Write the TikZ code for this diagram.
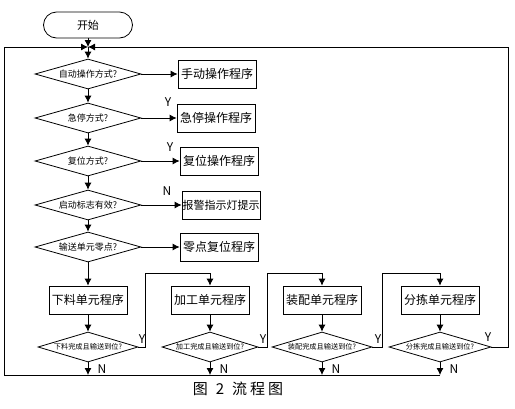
\documentclass[tikz,border=0pt]{standalone}
\usepackage{fontspec}
\newfontfamily\cjk{Noto Sans CJK SC}
\usetikzlibrary{shapes.geometric,arrows.meta,positioning}

\begin{document}
\begin{tikzpicture}[x=1pt,y=-1pt,line width=0.8pt,>={Latex[length=7pt,width=7pt]},
	startbox/.style={draw,rounded corners=13pt,minimum width=89pt,minimum height=26pt,font=\cjk\fontsize{11}{13}\selectfont},
	procbox/.style={draw,rectangle,minimum width=78pt,minimum height=28pt,inner sep=1pt,font=\cjk\fontsize{12}{14}\selectfont},
	ask/.style={draw,diamond,aspect=3.5,inner sep=0pt,minimum width=106pt,minimum height=30pt,font=\cjk\fontsize{9}{10}\selectfont},
	asksmall/.style={ask,minimum width=100pt,font=\cjk\fontsize{7.2}{8}\selectfont},
	yn/.style={inner sep=0pt,font=\cjk\fontsize{12}{14}\selectfont}]
		\useasboundingbox (0,0) rectangle (515,408);
		% main column
		\node[startbox] (start) at (88,25) {开始};
		\coordinate (join) at (88,47);
		\coordinate (tl) at (4,47);
		\coordinate (tr) at (508,47);
		\coordinate (bl) at (4,375);
		\node[ask] (d1) at (88,74) {自动操作方式?};
		\node[ask] (d2) at (88,118) {急停方式?};
		\node[ask] (d3) at (88,161) {复位方式?};
		\node[ask] (d4) at (88,205) {启动标志有效?};
		\node[ask] (d5) at (88,247) {输送单元零点?};
		\node[procbox] (p1) at (217,74) {手动操作程序};
		\node[procbox] (p2) at (216,118) {急停操作程序};
		\node[procbox] (p3) at (219,161) {复位操作程序};
		\node[procbox,inner xsep=0pt,font=\cjk\fontsize{11}{13}\selectfont] (p4) at (221,205) {报警指示灯提示};
		\node[procbox] (p5) at (219,247) {零点复位程序};
		\node[yn] (y2) at (168,102) {Y};
		\node[yn] (y3) at (170,147) {Y};
		\node[yn] (n4) at (167,191) {N};
		\draw[->] (start) -- (join);
		\draw[->] (join) -- (d1);
		\draw[->] (d1) -- (d2);
		\draw[->] (d2) -- (d3);
		\draw[->] (d3) -- (d4);
		\draw[->] (d4) -- (d5);
		\draw[->] (d1.east) -- (d1.east -| p1.west);
		\draw[->] (d2.east) -- (d2.east -| p2.west);
		\draw[->] (d3.east) -- (d3.east -| p3.west);
		\draw[->] (d4.east) -- (d4.east -| p4.west);
		\draw[->] (d5.east) -- (d5.east -| p5.west);
		% unit programs
		\node[procbox] (u1) at (88,300) {下料单元程序};
		\node[procbox] (u2) at (210,300) {加工单元程序};
		\node[procbox] (u3) at (322,300) {装配单元程序};
		\node[procbox] (u4) at (440,300) {分拣单元程序};
		\node[asksmall] (q1) at (88,347) {下料完成且输送到位?};
		\node[asksmall,minimum width=96pt] (q2) at (210,347) {加工完成且输送到位?};
		\node[asksmall] (q3) at (322,347) {装配完成且输送到位?};
		\node[asksmall,minimum width=102pt] (q4) at (440,347) {分拣完成且输送到位?};
		\draw[->] (d5) -- (u1);
		\draw[->] (u1) -- (q1);
		\draw[->] (u2) -- (q2);
		\draw[->] (u3) -- (q3);
		\draw[->] (u4) -- (q4);
		\coordinate (c1) at (145,273);
		\coordinate (c2) at (267,273);
		\coordinate (c3) at (382,273);
		\draw[->] (q1.east) -- (c1 |- q1.east) -- (c1) -- (c1 -| u2) -- (u2);
		\draw[->] (q2.east) -- (c2 |- q2.east) -- (c2) -- (c2 -| u3) -- (u3);
		\draw[->] (q3.east) -- (c3 |- q3.east) -- (c3) -- (c3 -| u4) -- (u4);
		\draw[->] (q4.east) -- (tr |- q4.east) -- (tr) -- (join);
		\draw[->] (q4.south |- bl) -- (bl) -- (tl) -- (join);
		\draw[->] (q1.south) -- (q1.south |- bl);
		\draw[->] (q2.south) -- (q2.south |- bl);
		\draw[->] (q3.south) -- (q3.south |- bl);
		\draw[->] (q4.south) -- (q4.south |- bl);
		\node[yn] (yq1) at (142,339) {Y};
		\node[yn] (yq2) at (263,339) {Y};
		\node[yn] (yq3) at (378,339) {Y};
		\node[yn] (yq4) at (488,337) {Y};
		\node[yn] (nq1) at (102,369) {N};
		\node[yn] (nq2) at (224,369) {N};
		\node[yn] (nq3) at (336,369) {N};
		\node[yn] (nq4) at (454,369) {N};
		\node[font=\cjk\fontsize{15}{17}\selectfont] (cap) at (238,389) {图\hspace{8pt}2\hspace{8pt}流\hspace{3pt}程\hspace{3pt}图};
	\end{tikzpicture}
\end{document}
